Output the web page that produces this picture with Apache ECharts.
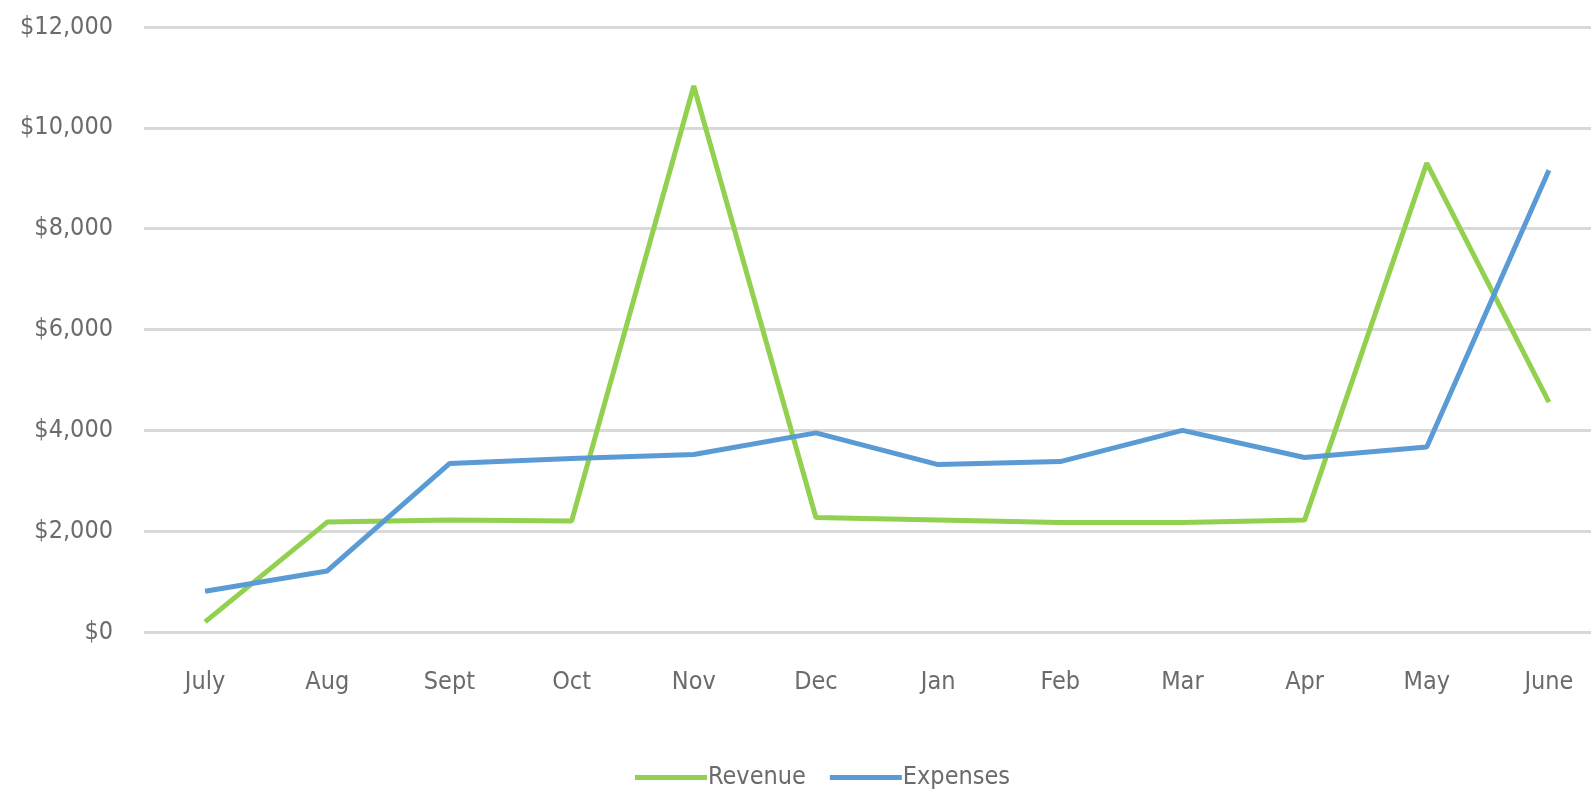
<!DOCTYPE html>
<html>
<head>
<meta charset="utf-8">
<script src="https://cdn.jsdelivr.net/npm/echarts@6/dist/echarts.min.js"></script>
<style>
  html, body { margin: 0; padding: 0; background: #fff; overflow: hidden; }
  /* the source chart is cut off on the right, so the canvas is a bit wider than the window */
  #chart { width: 1610px; height: 795px; }
</style>
</head>
<body>
<div id="chart"></div>
<script>
  // months of the fiscal year
  var months = ['July', 'Aug', 'Sept', 'Oct', 'Nov', 'Dec', 'Jan', 'Feb', 'Mar', 'Apr', 'May', 'June'];
  var revenue = [200, 2180, 2220, 2200, 10830, 2270, 2220, 2170, 2170, 2220, 9300, 4560];
  var expenses = [810, 1210, 3340, 3440, 3520, 3950, 3320, 3380, 4000, 3460, 3670, 9160];
  var yTicks = [0, 2000, 4000, 6000, 8000, 10000, 12000];

  var textColor = '#6b6b6b';
  var font = "'DejaVu Sans Condensed', 'Liberation Sans', sans-serif";

  var myChart = echarts.init(document.getElementById('chart'));
  var option = {
    animation: false,
    grid: {
      top: 27,
      left: 144,
      right: 0,
      bottom: 163
    },
    legend: {
      left: 630,
      top: 760,
      icon: 'rect',
      itemWidth: 72,
      itemHeight: 5,
      itemGap: 24,
      textStyle: { color: textColor, fontSize: 25, fontFamily: font, padding: [0, 0, 0, -4] },
      data: ['Revenue', 'Expenses']
    },
    xAxis: {
      type: 'category',
      data: months,
      axisLine: { show: false },
      axisTick: { show: false },
      axisLabel: {
        margin: 38,
        color: textColor,
        fontSize: 25,
        fontFamily: font
      }
    },
    yAxis: {
      type: 'value',
      min: yTicks[0],
      max: yTicks[yTicks.length - 1],
      interval: 2000,
      axisLine: { show: false },
      axisTick: { show: false },
      splitLine: { lineStyle: { color: '#d9d9d9', width: 3 } },
      axisLabel: {
        margin: 31,
        color: textColor,
        fontSize: 25,
        fontFamily: font,
        formatter: function (v) {
          return '$' + v.toLocaleString('en-US');
        }
      }
    },
    series: [
      {
        name: 'Revenue',
        type: 'line',
        data: revenue,
        symbol: 'none',
        lineStyle: { color: '#92d050', width: 5 },
        itemStyle: { color: '#92d050' }
      },
      {
        name: 'Expenses',
        type: 'line',
        data: expenses,
        symbol: 'none',
        lineStyle: { color: '#5b9bd5', width: 5 },
        itemStyle: { color: '#5b9bd5' }
      }
    ]
  };
  myChart.setOption(option, true);
</script>
</body>
</html>
